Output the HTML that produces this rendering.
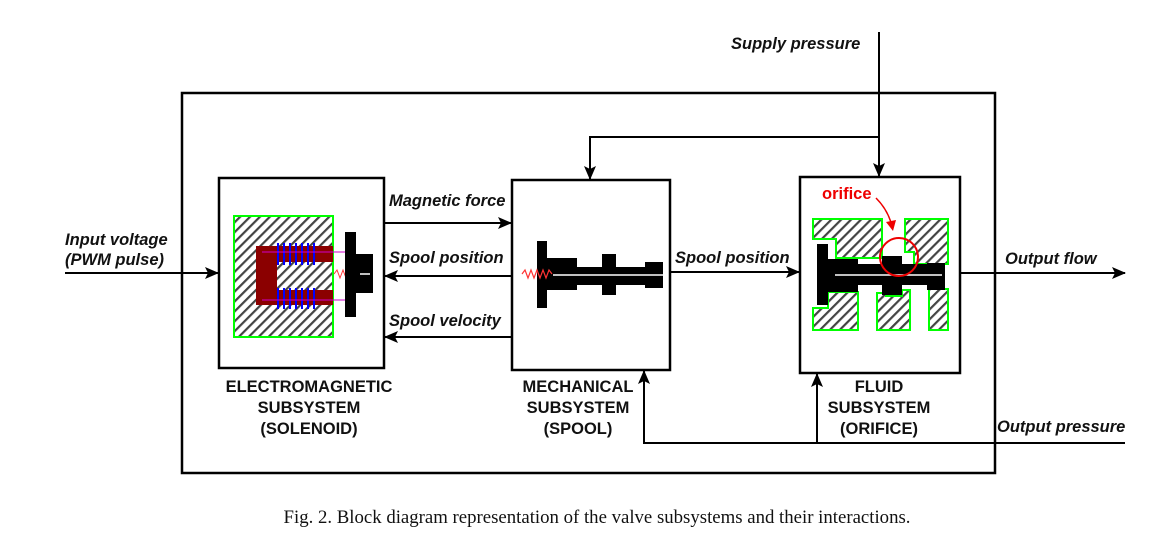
<!DOCTYPE html>
<html><head><meta charset="utf-8"><style>body{margin:0;background:#fff}svg{display:block}</style></head>
<body>
<svg width="1170" height="559" viewBox="0 0 1170 559" xmlns="http://www.w3.org/2000/svg">
<defs>
<pattern id="h" patternUnits="userSpaceOnUse" width="7" height="7" patternTransform="rotate(45)">
<rect width="7" height="7" fill="#fff"/><rect width="2.2" height="7" fill="#444"/></pattern>
<marker id="a" markerWidth="14" markerHeight="12" refX="13" refY="6" orient="auto" markerUnits="userSpaceOnUse"><path d="M0,0 L14,6 L0,12 L3,6 Z" fill="#000"/></marker>
</defs>
<g fill="none" stroke="#000" stroke-width="2.5">
<rect x="182" y="93" width="813" height="380"/>
<rect x="219" y="178" width="165" height="190" fill="#fff"/>
<rect x="512" y="180" width="158" height="190" fill="#fff"/>
<rect x="800" y="177" width="160" height="196" fill="#fff"/>
</g>
<g stroke="#000" stroke-width="2" fill="none" marker-end="url(#a)">
<line x1="65" y1="273" x2="218" y2="273"/>
<line x1="384" y1="223" x2="511" y2="223"/>
<line x1="512" y1="276" x2="385" y2="276"/>
<line x1="512" y1="337" x2="385" y2="337"/>
<line x1="670" y1="272" x2="799" y2="272"/>
<line x1="960" y1="273" x2="1125" y2="273"/>
<line x1="879" y1="32" x2="879" y2="176"/>
<polyline points="879,137 590,137 590,179"/>
<polyline points="1125,443 644,443 644,371"/>
<line x1="817" y1="443" x2="817" y2="374"/>
</g>
<!-- solenoid -->
<rect x="234" y="216" width="99" height="121" fill="url(#h)" stroke="#0f0" stroke-width="2"/>
<path d="M256,246 H333 V262 H277 V290 H333 V305 H256 Z" fill="#8b0000"/>
<g stroke="#00f" stroke-width="2">
<line x1="278" y1="243" x2="278" y2="265"/><line x1="284" y1="243" x2="284" y2="265"/><line x1="290" y1="243" x2="290" y2="265"/><line x1="296" y1="243" x2="296" y2="265"/><line x1="302" y1="243" x2="302" y2="265"/><line x1="308" y1="243" x2="308" y2="265"/><line x1="314" y1="243" x2="314" y2="265"/>
<line x1="278" y1="288" x2="278" y2="309"/><line x1="284" y1="288" x2="284" y2="309"/><line x1="290" y1="288" x2="290" y2="309"/><line x1="296" y1="288" x2="296" y2="309"/><line x1="302" y1="288" x2="302" y2="309"/><line x1="308" y1="288" x2="308" y2="309"/><line x1="314" y1="288" x2="314" y2="309"/>
</g>
<path d="M262,252 H345 Q355,252 355,262 V290 Q355,300 345,300 H262" fill="none" stroke="#c0c" stroke-width="1"/>
<polyline points="334,274 337,270 340,278 343,270 346,278 349,270 352,278 355,270 358,274" fill="none" stroke="#f33" stroke-width="1"/>
<rect x="345" y="232" width="11" height="85" fill="#000"/>
<rect x="356" y="254" width="17" height="39" fill="#000"/>
<line x1="360" y1="274" x2="370" y2="274" stroke="#fff" stroke-width="1.5"/>
<!-- mechanical -->
<rect x="537" y="241" width="10" height="67" fill="#000"/>
<rect x="547" y="258" width="30" height="32" fill="#000"/>
<rect x="577" y="267" width="86" height="18" fill="#000"/>
<rect x="602" y="254" width="14" height="41" fill="#000"/>
<rect x="645" y="262" width="18" height="26" fill="#000"/>
<line x1="553" y1="275" x2="663" y2="275" stroke="#fff" stroke-width="1.5"/>
<polyline points="522,274 525,270 528,278 531,270 534,278 537,270 540,278 543,270 546,278 549,270 552,274" fill="none" stroke="#f33" stroke-width="1.2"/>
<!-- fluid -->
<g fill="url(#h)" stroke="#0f0" stroke-width="2">
<path d="M813,219 H882 V258 H836 V239 H813 Z"/>
<path d="M905,219 H948 V264 H914 V252 H905 Z"/>
<path d="M813,330 H858 V292 H828 V308 H813 Z"/>
<path d="M877,330 H910 V290 H902 V296 H886 V293 H877 Z"/>
<path d="M929,330 H948 V289 H929 Z"/>
</g>
<rect x="817" y="244" width="11" height="61" fill="#000"/>
<rect x="828" y="259" width="30" height="33" fill="#000"/>
<rect x="828" y="264" width="117" height="21" fill="#000"/>
<rect x="882" y="256" width="20" height="39" fill="#000"/>
<rect x="927" y="263" width="18" height="27" fill="#000"/>
<line x1="835" y1="275" x2="942" y2="275" stroke="#fff" stroke-width="1.5"/>
<circle cx="899" cy="257" r="19" fill="none" stroke="#e00" stroke-width="2"/>
<path d="M876,198 Q888,210 892,226" fill="none" stroke="#e00" stroke-width="1.5"/>
<path d="M886,222 L893,231 L896,220 Z" fill="#e00"/>
<text x="822" y="199" font-family="Liberation Sans, sans-serif" font-size="16.5" font-weight="bold" fill="#e00">orifice</text>
<g font-family="Liberation Sans, sans-serif" font-size="16.5" font-weight="bold" font-style="italic" fill="#111">
<text x="731" y="49">Supply pressure</text>
<text x="389" y="206">Magnetic force</text>
<text x="389" y="263">Spool position</text>
<text x="389" y="326">Spool velocity</text>
<text x="675" y="263">Spool position</text>
<text x="1005" y="264">Output flow</text>
<text x="997" y="432">Output pressure</text>
<text x="65" y="245">Input voltage</text>
<text x="65" y="265">(PWM pulse)</text>
</g>
<g font-family="Liberation Sans, sans-serif" font-size="16.5" font-weight="bold" fill="#111" text-anchor="middle">
<text x="309" y="392">ELECTROMAGNETIC</text>
<text x="309" y="413">SUBSYSTEM</text>
<text x="309" y="434">(SOLENOID)</text>
<text x="578" y="392">MECHANICAL</text>
<text x="578" y="413">SUBSYSTEM</text>
<text x="578" y="434">(SPOOL)</text>
<text x="879" y="392">FLUID</text>
<text x="879" y="413">SUBSYSTEM</text>
<text x="879" y="434">(ORIFICE)</text>
</g>
<text x="597" y="523" font-family="Liberation Serif, serif" font-size="18.8" text-anchor="middle" fill="#111">Fig. 2. Block diagram representation of the valve subsystems and their interactions.</text>
</svg>
</body></html>
